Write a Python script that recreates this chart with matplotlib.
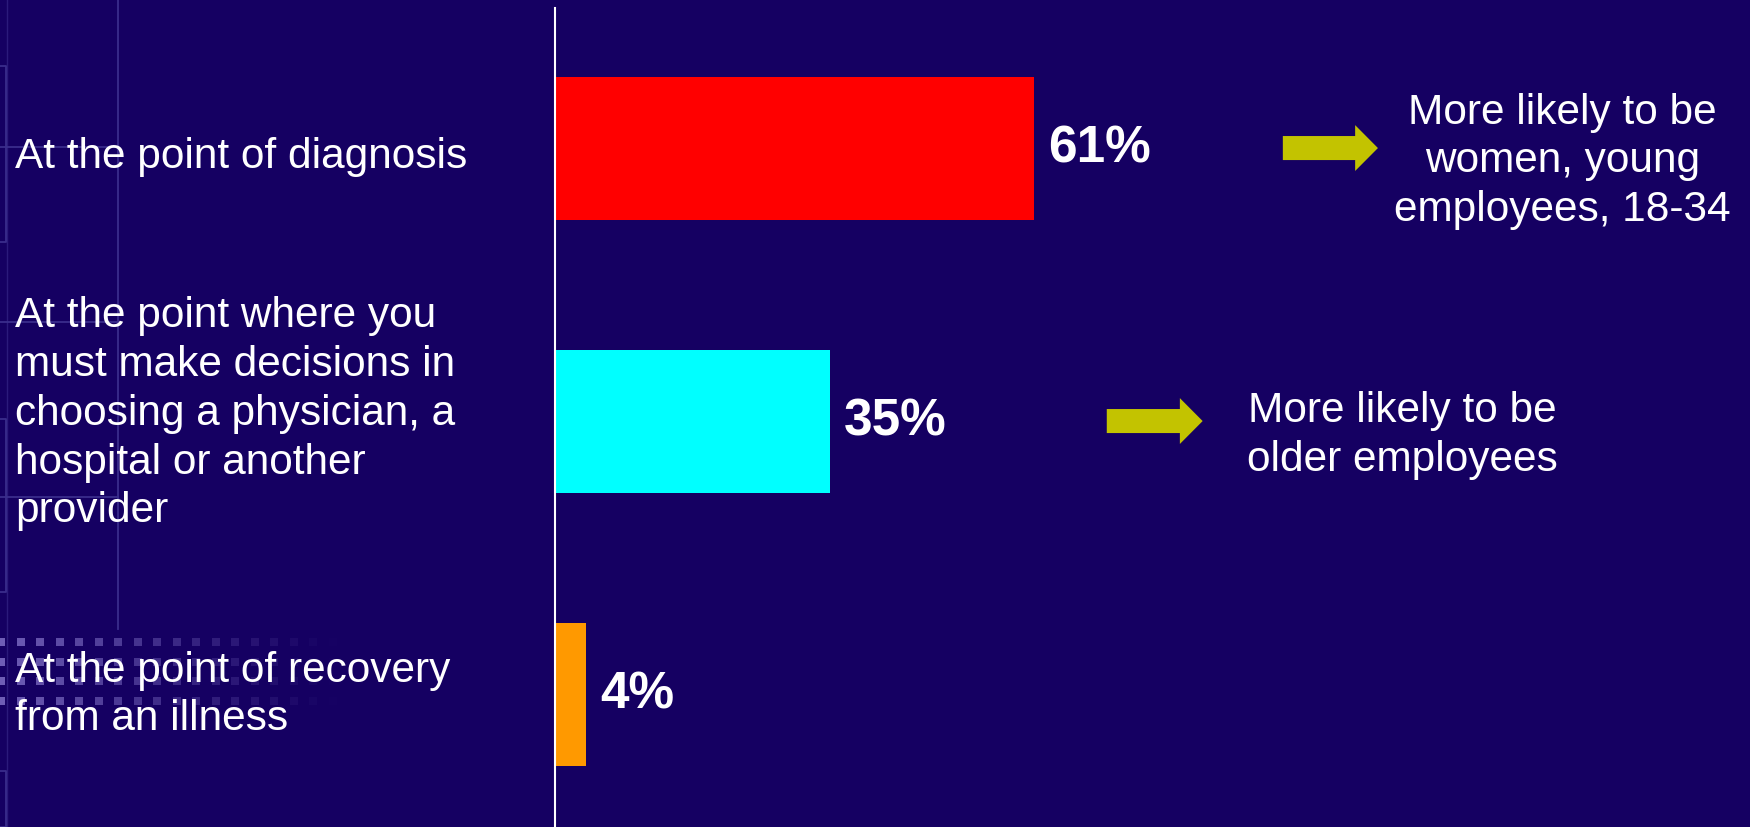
import numpy as np
import matplotlib
matplotlib.use("Agg")
import matplotlib.pyplot as plt
from matplotlib.patches import FancyArrow
from matplotlib.transforms import blended_transform_factory

# ── data ──────────────────────────────────────────────────────────────────────
categories = [
    "At the point of diagnosis",
    "At the point where you\nmust make decisions in\nchoosing a physician, a\nhospital or another\nprovider",
    "At the point of recovery\nfrom an illness",
]
values     = [61, 35, 4]
bar_colors = ["#ff0000", "#00ffff", "#ff9900"]
notes      = ["More likely to be\nwomen, young\nemployees, 18-34",
              "More likely to be\nolder employees"]

# ── style ─────────────────────────────────────────────────────────────────────
BG    = "#150062"
DECO  = "#3a2d8c"
ARROW = "#c3c300"
LS    = 1.28
plt.rcParams["font.family"] = ["Liberation Sans", "DejaVu Sans"]

W, H = 1750, 828
fig = plt.figure(figsize=(W / 100, H / 100), dpi=100, facecolor=BG)

# ── slide template decoration (pixel space) ──────────────────────────────────
bg = fig.add_axes([0, 0, 1, 1], zorder=0)
bg.set_xlim(0, W)
bg.set_ylim(H, 0)
bg.axis("off")
lk = dict(color=DECO, lw=1.3)
bg.plot([118, 118], [0, 630], **lk)
bg.plot([7, 7], [0, H], color=DECO, lw=1.0, alpha=0.6)
for yy in (148, 323, 498):
    bg.plot([0, 118], [yy, yy], **lk)
for y0, y1 in ((67, 243), (420, 593), (772, H)):
    bg.plot([0, 6, 6, 0], [y0, y0, y1, y1], **lk)
for yy in (643, 663, 682, 702):
    xs = np.arange(-3, 330, 19.5)
    a = np.clip(1.0 - xs / 340.0, 0, 1) ** 1.2 * 0.85
    for x, al in zip(xs, a):
        bg.add_patch(plt.Rectangle((x, yy - 4), 8, 8, color="#7e6ec4",
                                   alpha=al, lw=0))

# ── bars ──────────────────────────────────────────────────────────────────────
ax_left = 555 / W
ax = fig.add_axes([ax_left, 0, 1 - ax_left, 819 / H], zorder=1)
ax.patch.set_alpha(0)
px_per_pct = 7.86
ax.set_xlim(0, (W - 555) / px_per_pct)
ypos = np.arange(len(values))
ax.set_ylim(2.487, -0.513)

ax.barh(ypos, values, height=0.524, color=bar_colors, zorder=2)
for y, v in zip(ypos, values):
    ax.annotate(f"{v}%", (v, y), xytext=(10, 0), textcoords="offset points",
                ha="left", va="center", color="white", fontsize=37,
                fontweight="bold")

for s in ("top", "right", "bottom"):
    ax.spines[s].set_visible(False)
ax.spines["left"].set_color("white")
ax.spines["left"].set_linewidth(1.5)
ax.set_xticks([])
ax.set_yticks([])

# category labels on the far left
tr = blended_transform_factory(fig.transFigure, ax.transData)
label_shift = [0.03, -0.03, 0.0]
for y, lab, dy in zip(ypos, categories, label_shift):
    ax.text(15 / W, y + dy, lab, transform=tr, ha="left", va="center",
            color="white", fontsize=30.5, linespacing=LS)

# ── side notes with arrows ───────────────────────────────────────────────────
arrow_x = [(92.6, 104.7), (70.2, 82.4)]
note_x  = [128.2, 107.8]
note_dy = [0.045, 0.05]
for i, (note, (x0, x1), nx, dy) in enumerate(zip(notes, arrow_x, note_x, note_dy)):
    ax.add_patch(FancyArrow(x0, ypos[i], x1 - x0, 0, width=0.088,
                            head_width=0.168, head_length=2.9,
                            length_includes_head=True, color=ARROW, lw=0))
    ax.text(nx, ypos[i] + dy, note, ha="center", va="center",
            multialignment="center", color="white", fontsize=30.5,
            linespacing=LS)

fig.savefig("out.png", dpi=100, facecolor=BG)
